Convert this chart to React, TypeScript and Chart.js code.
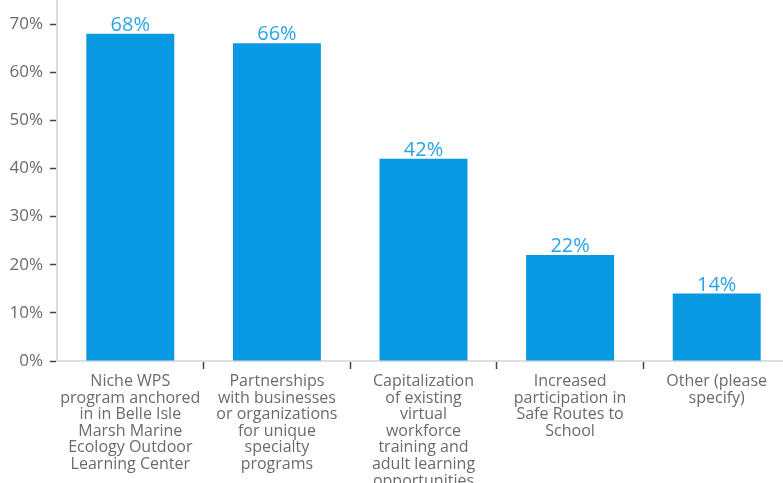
import React, { useEffect, useRef } from "react";
import { Chart, registerables } from "chart.js";

Chart.register(...registerables);

const categories: string[][] = [
  ["Niche WPS", "program anchored", "in in Belle Isle", "Marsh Marine", "Ecology Outdoor", "Learning Center"],
  ["Partnerships", "with businesses", "or organizations", "for unique", "specialty", "programs"],
  ["Capitalization", "of existing", "virtual", "workforce", "training and", "adult learning", "opportunities"],
  ["Increased", "participation in", "Safe Routes to", "School"],
  ["Other (please", "specify)"],
];
const values: number[] = [68, 66, 42, 22, 14];
const yTickValues: number[] = [0, 10, 20, 30, 40, 50, 60, 70];

const BAR_COLOR = "#0899e2";
const LABEL_COLOR = "#2ba3e8";
const TEXT_GRAY = "#6b6b6b";
const FONT = '"Open Sans", "Noto Sans", sans-serif';

const valueLabels = {
  id: "valueLabels",
  afterDatasetsDraw(chart: any) {
    const { ctx } = chart;
    const meta = chart.getDatasetMeta(0);
    ctx.save();
    ctx.font = `20px ${FONT}`;
    ctx.fillStyle = LABEL_COLOR;
    ctx.textAlign = "center";
    ctx.textBaseline = "alphabetic";
    meta.data.forEach((bar: any, i: number) => {
      ctx.fillText(values[i] + "%", bar.x, bar.y - 3);
    });
    ctx.restore();
  },
};

export default function App() {
  const ref = useRef<HTMLCanvasElement>(null);
  useEffect(() => {
    if (!ref.current) return;
    const chart = new Chart(ref.current, {
      type: "bar",
      data: {
        labels: categories,
        datasets: [
          {
            data: values,
            backgroundColor: BAR_COLOR,
            barPercentage: 0.6,
            categoryPercentage: 1,
          },
        ],
      },
      options: {
        responsive: false,
        animation: false,
        layout: { padding: 0 },
        plugins: { legend: { display: false }, tooltip: { enabled: false } },
        scales: {
          x: {
            afterFit: (s: any) => {
              s.height = 139;
              s.paddingLeft = 0;
              s.paddingRight = 0;
            },
            border: { display: true, color: "#dedede", width: 2 },
            grid: {
              display: true,
              offset: true,
              drawOnChartArea: false,
              drawTicks: true,
              tickLength: 8,
              tickWidth: 1.5,
              tickColor: (c: any) => (c.index === 0 ? "rgba(0,0,0,0)" : "#444"),
            },
            ticks: {
              autoSkip: false,
              maxRotation: 0,
              minRotation: 0,
              padding: 4,
              color: TEXT_GRAY,
              font: { family: FONT, size: 16, lineHeight: 1.04 },
            },
          },
          y: {
            min: 0,
            max: 75,
            afterFit: (s: any) => {
              s.width = 57;
              s.paddingTop = 0;
              s.paddingBottom = 0;
            },
            afterBuildTicks: (s: any) => {
              s.ticks = yTickValues.map((v) => ({ value: v }));
            },
            border: { display: true, color: "#dedede", width: 2 },
            grid: {
              display: true,
              drawOnChartArea: false,
              drawTicks: true,
              tickLength: 10,
              tickWidth: 1.5,
              tickColor: "#444",
              tickBorderDash: [7, 3],
              tickBorderDashOffset: 7,
            },
            ticks: {
              stepSize: 10,
              padding: 4,
              color: TEXT_GRAY,
              font: { family: FONT, size: 17 },
              callback: (v: any) => v + "%",
            },
          },
        },
      },
      plugins: [valueLabels],
    });
    return () => chart.destroy();
  }, []);
  return (
    <div
      style={{
        position: "fixed",
        left: 0,
        top: 0,
        width: 783,
        height: 483,
        overflow: "hidden",
        background: "#fff",
      }}
    >
      <canvas ref={ref} width={790} height={500} style={{ display: "block" }} />
    </div>
  );
}
